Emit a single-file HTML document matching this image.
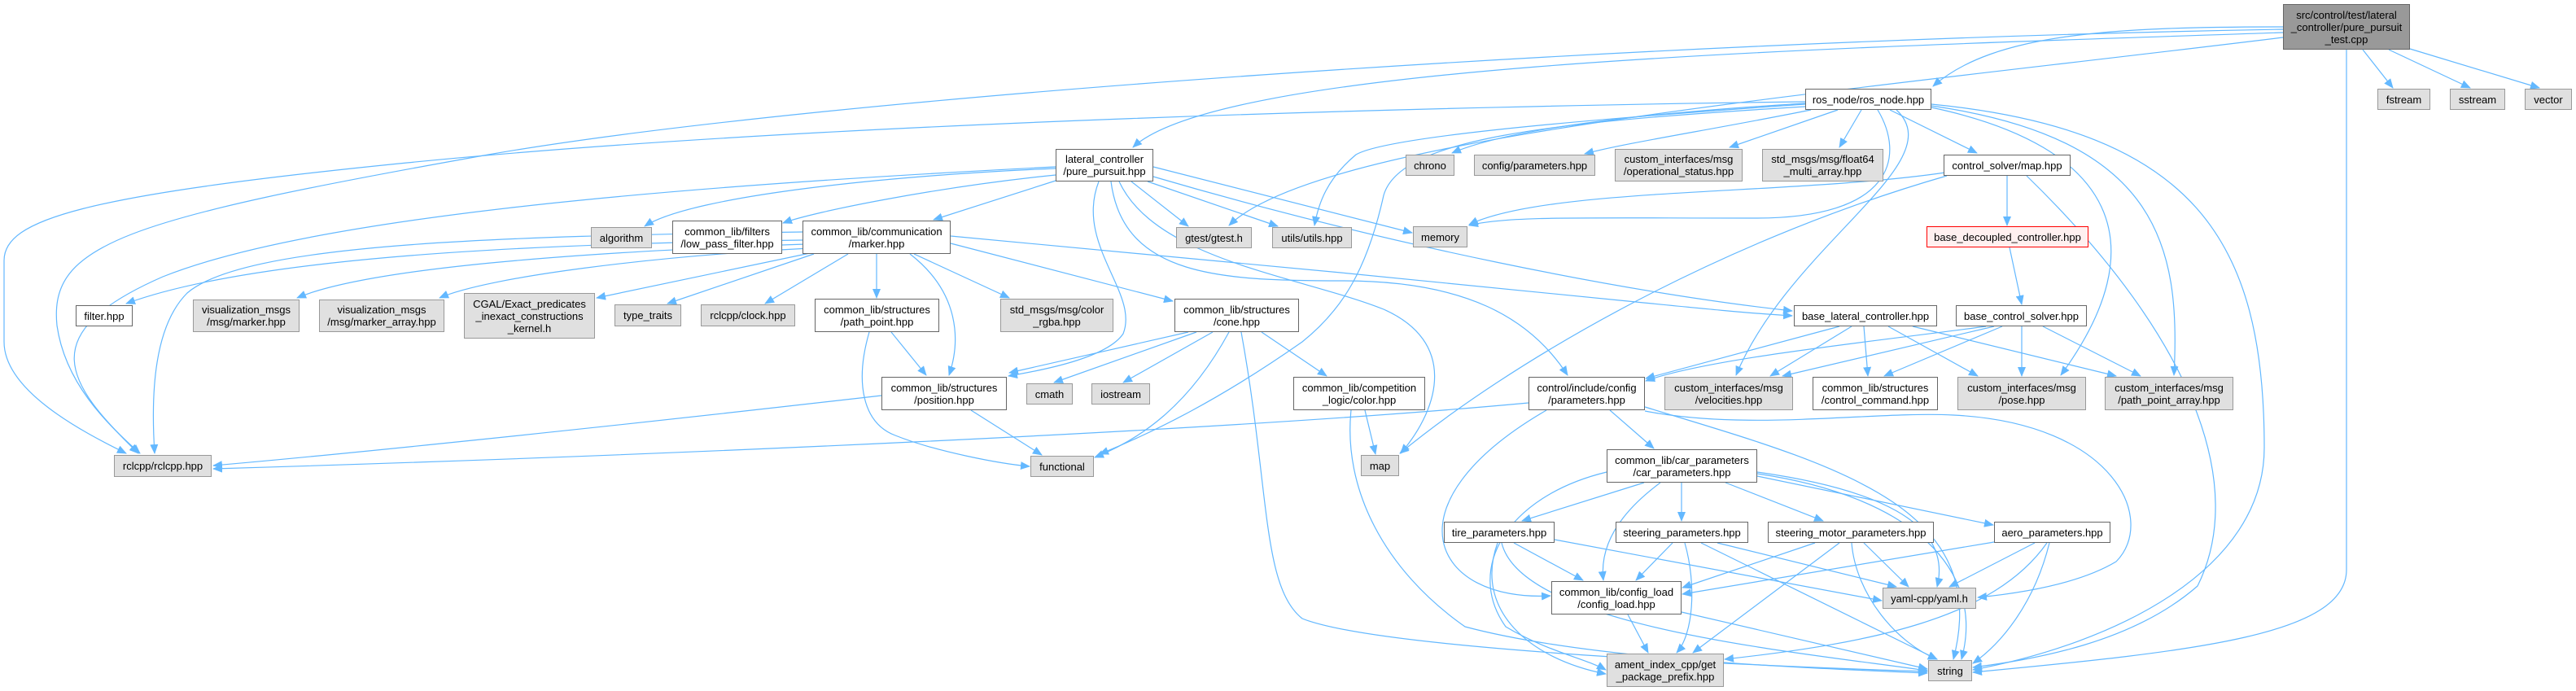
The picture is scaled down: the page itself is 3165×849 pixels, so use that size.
<!DOCTYPE html>
<html><head><meta charset="utf-8"><style>
html,body{margin:0;padding:0;background:#fff;}
#c{position:relative;width:3165px;height:849px;overflow:hidden;}
svg{position:absolute;left:0;top:0;}
.n{position:absolute;box-sizing:border-box;border:1px solid #666;background:#fff;display:flex;align-items:center;justify-content:center;text-align:center;font-family:"Liberation Sans",sans-serif;font-size:13px;line-height:15px;color:#000;white-space:nowrap;}
.g{background:#e0e0e0;border-color:#999;}
.r{background:#fff0f0;border-color:#f00;}
.d{background:#999;border-color:#666;}
</style></head><body><div id="c">
<svg width="3165" height="849" viewBox="0 0 3165 849">
<defs><marker id="a" markerUnits="userSpaceOnUse" markerWidth="12" markerHeight="10" refX="11" refY="5" orient="auto"><path d="M0,0 L12,5 L0,10 z" fill="#63b8ff"/></marker></defs>
<g fill="none" stroke="#63b8ff" stroke-width="1.2" marker-end="url(#a)">
<path d="M2903,61 L2940,108"/>
<path d="M2935,61 L3035,108"/>
<path d="M2961,60 L3120,108"/>
<path d="M2883,61 L2883,700 C2883,780 2700,800 2424,826"/>
<path d="M2805,33 C2600,33 2450,40 2375,106"/>
<path d="M2805,40 C2200,60 1500,80 1392,181"/>
<path d="M2805,46 C2200,120 1620,170 1510,277"/>
<path d="M2805,36 C2000,50 1000,120 600,190 C150,270 60,300 70,400 C80,470 130,520 172,557"/>
<path d="M2218,125 C1800,130 1000,150 500,200 C100,240 5,270 5,320 L5,420 C5,480 100,530 155,557"/>
<path d="M2218,127 C2000,140 1850,160 1784,188"/>
<path d="M2225,135 C2100,160 2000,175 1947,189"/>
<path d="M2258,135 L2125,181"/>
<path d="M2287,135 L2260,181"/>
<path d="M2322,135 L2429,188"/>
<path d="M2307,135 C2340,190 2330,270 2150,268 C1950,268 1850,265 1805,277"/>
<path d="M2218,128 C1900,150 1700,170 1666,190 C1630,220 1620,250 1615,277"/>
<path d="M2218,131 C1900,150 1720,170 1700,240 C1680,330 1650,380 1600,420 C1500,490 1420,530 1351,558"/>
<path d="M2373,128 C2700,160 2782,300 2782,550 C2782,700 2600,790 2424,823"/>
<path d="M2373,130 C2650,170 2680,300 2671,461"/>
<path d="M2373,132 C2600,180 2650,300 2532,461"/>
<path d="M2330,135 C2400,200 2200,300 2133,461"/>
<path d="M2392,216 C2100,300 1850,450 1720,557"/>
<path d="M2466,216 L2466,277"/>
<path d="M2390,212 C2200,240 1900,230 1805,276"/>
<path d="M2490,216 C2700,420 2760,600 2700,720 C2620,790 2500,810 2424,820"/>
<path d="M2469,304 L2484,374"/>
<path d="M2440,401 C2300,420 2100,440 2022,468"/>
<path d="M2450,401 L2190,462"/>
<path d="M2460,401 L2315,462"/>
<path d="M2484,401 L2484,462"/>
<path d="M2510,401 L2630,462"/>
<path d="M2260,401 L2022,465"/>
<path d="M2275,401 L2175,462"/>
<path d="M2290,401 L2295,462"/>
<path d="M2320,401 L2430,462"/>
<path d="M2350,401 L2600,462"/>
<path d="M1297,207 C1100,215 850,240 792,278"/>
<path d="M1297,215 C1150,230 1000,260 962,274"/>
<path d="M1297,222 L1147,270"/>
<path d="M1390,223 L1460,278"/>
<path d="M1410,223 L1570,278"/>
<path d="M1417,205 L1735,286"/>
<path d="M1297,205 C900,225 400,260 200,340 C40,410 80,470 170,557"/>
<path d="M986,285 C600,290 300,300 230,360 C190,400 185,480 190,557"/>
<path d="M1350,223 C1320,300 1400,360 1380,410 C1360,440 1280,455 1239,462"/>
<path d="M1365,223 C1380,340 1500,345 1650,345 C1800,345 1880,390 1926,461"/>
<path d="M1417,217 C1700,300 2000,360 2202,382"/>
<path d="M1375,223 C1420,320 1600,340 1700,380 C1790,420 1770,500 1721,557"/>
<path d="M986,295 C600,300 300,320 155,373"/>
<path d="M990,300 C700,310 450,330 365,366"/>
<path d="M995,305 C800,315 600,340 540,366"/>
<path d="M1000,310 L733,366"/>
<path d="M1000,312 L820,373"/>
<path d="M1042,312 L940,373"/>
<path d="M1077,312 L1077,366"/>
<path d="M1123,312 L1240,366"/>
<path d="M1168,299 L1441,370"/>
<path d="M1118,312 C1180,360 1180,420 1166,461"/>
<path d="M1168,290 C1500,320 1700,340 2000,370 C2100,380 2150,385 2202,388"/>
<path d="M1095,408 L1138,461"/>
<path d="M1068,408 C1050,470 1060,520 1100,535 C1150,555 1230,570 1265,573"/>
<path d="M1193,504 L1280,559"/>
<path d="M1083,486 C700,530 400,560 262,572"/>
<path d="M1460,408 L1240,458"/>
<path d="M1470,408 L1295,470"/>
<path d="M1490,408 L1380,470"/>
<path d="M1510,408 C1460,500 1400,540 1345,562"/>
<path d="M1525,408 C1560,600 1550,720 1600,760 C1700,800 2200,820 2368,825"/>
<path d="M1550,408 L1630,462"/>
<path d="M1677,504 L1690,558"/>
<path d="M1660,504 C1650,600 1700,700 1800,770 C1950,810 2200,820 2368,827"/>
<path d="M1878,495 C1500,530 800,560 262,576"/>
<path d="M1978,504 L2032,551"/>
<path d="M1900,504 C1700,620 1760,740 1905,732"/>
<path d="M2021,500 C2250,570 2450,620 2400,810"/>
<path d="M2021,505 C2150,530 2300,505 2400,510 C2600,520 2650,640 2600,690 C2550,720 2470,730 2430,734"/>
<path d="M2020,593 L1870,640"/>
<path d="M2066,593 L2066,640"/>
<path d="M2120,593 L2240,640"/>
<path d="M2159,585 L2449,645"/>
<path d="M2040,593 C1990,630 1965,670 1970,713"/>
<path d="M2159,580 C2300,600 2400,640 2380,721"/>
<path d="M2159,582 C2350,610 2440,700 2410,810"/>
<path d="M1974,580 C1850,610 1800,700 1850,770 C1900,800 1950,810 1973,823"/>
<path d="M1860,667 L1945,713"/>
<path d="M1910,663 L2312,738"/>
<path d="M1840,667 C1810,750 1880,810 1973,828"/>
<path d="M1845,667 C1870,770 2200,800 2368,824"/>
<path d="M2055,667 L2010,713"/>
<path d="M2070,667 C2085,720 2080,780 2060,802"/>
<path d="M2090,667 L2380,810"/>
<path d="M2110,667 L2330,721"/>
<path d="M2230,667 L2067,722"/>
<path d="M2260,667 L2080,802"/>
<path d="M2275,667 C2280,730 2330,790 2380,810"/>
<path d="M2290,667 L2345,721"/>
<path d="M2450,666 L2067,730"/>
<path d="M2500,667 L2395,721"/>
<path d="M2515,667 C2450,760 2300,790 2119,810"/>
<path d="M2518,667 C2500,740 2460,790 2424,815"/>
<path d="M2000,755 L2025,802"/>
<path d="M2066,752 L2368,822"/>
</g></svg>
<div class="n d" style="left:2805px;top:5px;width:156px;height:56px">src/control/test/lateral<br>_controller/pure_pursuit<br>_test.cpp</div>
<div class="n g" style="left:2921px;top:109px;width:65px;height:26px">fstream</div>
<div class="n g" style="left:3010px;top:109px;width:68px;height:26px">sstream</div>
<div class="n g" style="left:3102px;top:109px;width:58px;height:26px">vector</div>
<div class="n" style="left:2218px;top:109px;width:155px;height:26px">ros_node/ros_node.hpp</div>
<div class="n" style="left:1297px;top:183px;width:120px;height:40px">lateral_controller<br>/pure_pursuit.hpp</div>
<div class="n g" style="left:1727px;top:190px;width:60px;height:26px">chrono</div>
<div class="n g" style="left:1811px;top:190px;width:149px;height:26px">config/parameters.hpp</div>
<div class="n g" style="left:1984px;top:183px;width:157px;height:40px">custom_interfaces/msg<br>/operational_status.hpp</div>
<div class="n g" style="left:2165px;top:183px;width:149px;height:40px">std_msgs/msg/float64<br>_multi_array.hpp</div>
<div class="n" style="left:2388px;top:190px;width:156px;height:26px">control_solver/map.hpp</div>
<div class="n g" style="left:726px;top:279px;width:75px;height:26px">algorithm</div>
<div class="n" style="left:826px;top:271px;width:135px;height:41px">common_lib/filters<br>/low_pass_filter.hpp</div>
<div class="n" style="left:986px;top:271px;width:182px;height:41px">common_lib/communication<br>/marker.hpp</div>
<div class="n g" style="left:1445px;top:279px;width:93px;height:26px">gtest/gtest.h</div>
<div class="n g" style="left:1563px;top:279px;width:98px;height:26px">utils/utils.hpp</div>
<div class="n g" style="left:1736px;top:278px;width:67px;height:26px">memory</div>
<div class="n r" style="left:2367px;top:278px;width:199px;height:26px">base_decoupled_controller.hpp</div>
<div class="n" style="left:93px;top:375px;width:70px;height:26px">filter.hpp</div>
<div class="n g" style="left:237px;top:368px;width:131px;height:40px">visualization_msgs<br>/msg/marker.hpp</div>
<div class="n g" style="left:392px;top:368px;width:154px;height:40px">visualization_msgs<br>/msg/marker_array.hpp</div>
<div class="n g" style="left:570px;top:360px;width:161px;height:56px">CGAL/Exact_predicates<br>_inexact_constructions<br>_kernel.h</div>
<div class="n g" style="left:755px;top:374px;width:82px;height:27px">type_traits</div>
<div class="n g" style="left:861px;top:374px;width:116px;height:27px">rclcpp/clock.hpp</div>
<div class="n" style="left:1001px;top:367px;width:153px;height:41px">common_lib/structures<br>/path_point.hpp</div>
<div class="n g" style="left:1229px;top:367px;width:139px;height:41px">std_msgs/msg/color<br>_rgba.hpp</div>
<div class="n" style="left:1443px;top:367px;width:153px;height:41px">common_lib/structures<br>/cone.hpp</div>
<div class="n" style="left:2204px;top:375px;width:176px;height:26px">base_lateral_controller.hpp</div>
<div class="n" style="left:2403px;top:375px;width:161px;height:26px">base_control_solver.hpp</div>
<div class="n" style="left:1083px;top:463px;width:154px;height:41px">common_lib/structures<br>/position.hpp</div>
<div class="n g" style="left:1261px;top:471px;width:57px;height:26px">cmath</div>
<div class="n g" style="left:1341px;top:471px;width:72px;height:26px">iostream</div>
<div class="n" style="left:1589px;top:463px;width:162px;height:41px">common_lib/competition<br>_logic/color.hpp</div>
<div class="n" style="left:1878px;top:463px;width:143px;height:41px">control/include/config<br>/parameters.hpp</div>
<div class="n g" style="left:2045px;top:463px;width:158px;height:41px">custom_interfaces/msg<br>/velocities.hpp</div>
<div class="n" style="left:2227px;top:463px;width:154px;height:41px">common_lib/structures<br>/control_command.hpp</div>
<div class="n g" style="left:2405px;top:463px;width:158px;height:41px">custom_interfaces/msg<br>/pose.hpp</div>
<div class="n g" style="left:2586px;top:463px;width:158px;height:41px">custom_interfaces/msg<br>/path_point_array.hpp</div>
<div class="n g" style="left:140px;top:559px;width:120px;height:27px">rclcpp/rclcpp.hpp</div>
<div class="n g" style="left:1266px;top:560px;width:78px;height:26px">functional</div>
<div class="n g" style="left:1672px;top:559px;width:47px;height:26px">map</div>
<div class="n" style="left:1974px;top:552px;width:185px;height:41px">common_lib/car_parameters<br>/car_parameters.hpp</div>
<div class="n" style="left:1774px;top:641px;width:136px;height:26px">tire_parameters.hpp</div>
<div class="n" style="left:1985px;top:641px;width:163px;height:26px">steering_parameters.hpp</div>
<div class="n" style="left:2172px;top:641px;width:204px;height:26px">steering_motor_parameters.hpp</div>
<div class="n" style="left:2450px;top:641px;width:143px;height:26px">aero_parameters.hpp</div>
<div class="n" style="left:1906px;top:714px;width:160px;height:41px">common_lib/config_load<br>/config_load.hpp</div>
<div class="n g" style="left:2313px;top:722px;width:115px;height:26px">yaml-cpp/yaml.h</div>
<div class="n g" style="left:1974px;top:803px;width:144px;height:41px">ament_index_cpp/get<br>_package_prefix.hpp</div>
<div class="n g" style="left:2369px;top:811px;width:54px;height:26px">string</div>
</div></body></html>
